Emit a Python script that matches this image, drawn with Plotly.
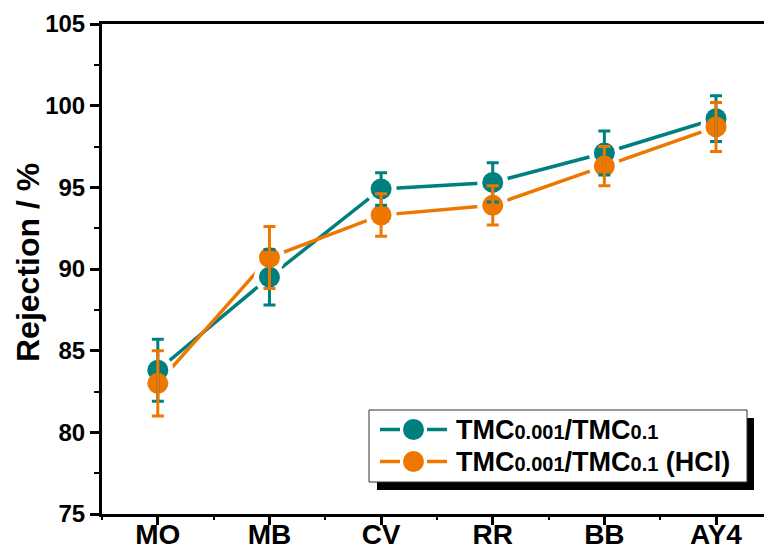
import plotly.graph_objects as go

# Dye rejection data
dyes = ["MO", "MB", "CV", "RR", "BB", "AY4"]
rej_a = [83.8, 89.5, 94.9, 95.3, 97.1, 99.2]
err_a = [1.9, 1.7, 1.0, 1.2, 1.35, 1.4]
rej_b = [83.0, 90.7, 93.3, 93.9, 96.3, 98.7]
err_b = [2.0, 1.9, 1.3, 1.2, 1.2, 1.5]
y_ticks = [75, 80, 85, 90, 95, 100, 105]

TEAL = "#007F7F"
ORANGE = "#EE7700"
FONT = "Liberation Sans, Arial, sans-serif"

W, H = 764, 560
ML, MR, MT, MB = 102, 0, 24, 46
xi = list(range(len(dyes)))


def px(x):
    return (x - ML) / (W - ML - MR)


def py(y):
    return (H - MB - y) / (H - MT - MB)


fig = go.Figure()

# connecting lines
for ys, col in ((rej_a, TEAL), (rej_b, ORANGE)):
    fig.add_trace(go.Scatter(x=xi, y=ys, mode="lines",
                             line=dict(color=col, width=3.5)))

# white halos leave a small gap between lines and symbols
for ys in (rej_a, rej_b):
    fig.add_trace(go.Scatter(x=xi, y=ys, mode="markers",
                             marker=dict(color="white", size=31)))

# symbols
for ys, col in ((rej_a, TEAL), (rej_b, ORANGE)):
    fig.add_trace(go.Scatter(x=xi, y=ys, mode="markers",
                             marker=dict(color=col, size=21)))

# error bars drawn above the symbols
for ys, es, col in ((rej_a, err_a, TEAL), (rej_b, err_b, ORANGE)):
    fig.add_trace(go.Scatter(x=xi, y=ys, mode="markers",
                             marker=dict(size=1, opacity=0),
                             error_y=dict(type="data", array=es, visible=True,
                                          color=col, thickness=3, width=6)))

# legend box with drop shadow
shapes = [
    dict(type="rect", xref="paper", yref="paper",
         x0=px(377), x1=px(754), y0=py(490), y1=py(418),
         fillcolor="black", line=dict(width=0), layer="above"),
    dict(type="rect", xref="paper", yref="paper",
         x0=px(369), x1=px(747), y0=py(482), y1=py(410),
         fillcolor="white", line=dict(color="#333333", width=1), layer="above"),
]
labels = [
    "TMC<span style='font-size:20px'>0.001</span>/TMC<span style='font-size:20px'>0.1</span>",
    "TMC<span style='font-size:20px'>0.001</span>/TMC<span style='font-size:20px'>0.1</span> (HCl)",
]
annotations = []
for row_y, col, lab in ((429.5, TEAL, labels[0]), (461.5, ORANGE, labels[1])):
    for x0, x1 in ((380, 400), (427, 447)):
        shapes.append(dict(type="line", xref="paper", yref="paper",
                           x0=px(x0), x1=px(x1), y0=py(row_y), y1=py(row_y),
                           line=dict(color=col, width=3.5), layer="above"))
    shapes.append(dict(type="circle", xref="paper", yref="paper",
                       xsizemode="pixel", ysizemode="pixel",
                       xanchor=px(413.5), yanchor=py(row_y),
                       x0=-10.5, x1=10.5, y0=-10.5, y1=10.5,
                       fillcolor=col, line=dict(width=0), layer="above"))
    annotations.append(dict(xref="paper", yref="paper", x=px(454), y=py(row_y),
                            xanchor="left", yanchor="middle", showarrow=False,
                            text=lab,
                            font=dict(family=FONT, size=27, color="black", weight="bold")))

annotations.append(dict(xref="paper", yref="paper", x=px(28), y=py(263),
                        xanchor="center", yanchor="middle", showarrow=False,
                        text="Rejection / %", textangle=-90,
                        font=dict(family=FONT, size=32, color="black", weight="bold")))

fig.update_layout(
    width=W, height=H,
    margin=dict(l=ML, r=MR, t=MT, b=MB, pad=0, autoexpand=False),
    plot_bgcolor="white", paper_bgcolor="white",
    showlegend=False, hovermode=False,
    shapes=shapes, annotations=annotations,
    font=dict(family=FONT, color="black"),
)
fig.update_xaxes(
    range=[-0.5, 5.43], tickvals=xi, ticktext=dyes, automargin=False,
    showline=True, linecolor="black", linewidth=2.5, mirror=True,
    ticks="outside", ticklen=8, tickwidth=2.5, tickcolor="black",
    minor=dict(tick0=0.5, dtick=1, ticks="outside", ticklen=3,
               tickwidth=1.5, tickcolor="black"),
    showgrid=False, zeroline=False, ticklabelstandoff=-14,
    tickfont=dict(family=FONT, size=28, color="black", weight="bold"),
)
fig.update_yaxes(
    range=[75, 105], tickvals=y_ticks, automargin=False,
    showline=True, linecolor="black", linewidth=3,
    ticks="outside", ticklen=9, tickwidth=2.5, tickcolor="black",
    minor=dict(dtick=2.5, ticks="outside", ticklen=5,
               tickwidth=2, tickcolor="black"),
    showgrid=False, zeroline=False,
    tickfont=dict(family=FONT, size=24, color="black", weight="bold"),
)

fig.write_html("out.html")
